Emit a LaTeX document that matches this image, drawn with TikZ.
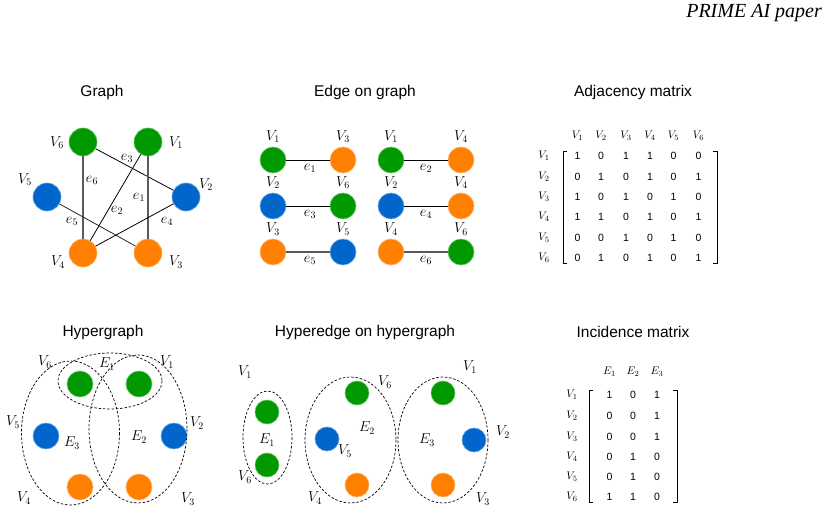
\documentclass[tikz,border=0pt]{standalone}
\usepackage[no-math]{fontspec}
\setmainfont{Liberation Sans}
\newfontfamily\timesf{Liberation Serif}
\definecolor{cgreen}{RGB}{0,153,0}
\definecolor{cblue}{RGB}{0,102,204}
\definecolor{corange}{RGB}{255,128,0}
\definecolor{cgray}{RGB}{90,90,90}
\tikzset{
  vtx/.style={circle, inner sep=0pt, minimum size=#1},
  gv/.style={vtx=#1, fill=cgreen, draw=cgreen!60!white, line width=0.6pt},
  bv/.style={vtx=#1, fill=cblue, draw=cblue!60!white, line width=0.6pt},
  ov/.style={vtx=#1, fill=corange, draw=corange!60!white, line width=0.6pt},
  ttl/.style={font=\fontsize{15.5}{17}\selectfont, inner sep=0pt},
  lab/.style={font=\fontsize{14.5}{15}\selectfont, inner sep=0pt},
  mlab/.style={font=\fontsize{11}{12}\selectfont, inner sep=0pt},
  ent/.style={font=\fontsize{10.5}{11}\selectfont, inner sep=0pt},
  edg/.style={draw=black, line width=0.8pt},
  gedg/.style={draw=cgray, line width=1.4pt},
  hedge/.style={draw=black, line width=0.7pt, dash pattern=on 2.5pt off 1.8pt},
  brk/.style={draw=black, line width=0.8pt},
}
\begin{document}
\begin{tikzpicture}[x=1pt,y=-1pt]
\useasboundingbox (0,0) rectangle (827,513);

% header
\node[anchor=east, inner sep=0pt, font=\timesf\itshape\fontsize{20}{22}\selectfont] (hdr) at (822,13) {PRIME AI paper};

% ---------------- Graph ----------------
\node[ttl] (t1) at (102,92) {Graph};
\node[gv=28] (g6) at (83,142) {};
\node[gv=28] (g1) at (148,142) {};
\node[bv=28] (g5) at (47,197) {};
\node[bv=28] (g2) at (186,197) {};
\node[ov=28] (g4) at (83,253) {};
\node[ov=28] (g3) at (148,253) {};
\draw[edg] (g6) -- (g2);
\draw[gedg] (g6) -- (g4);
\draw[edg] (g1) -- (g4);
\draw[gedg] (g1) -- (g3);
\draw[edg, draw=black!85] (g5) -- (g3);
\draw[edg] (g2) -- (g4);
\node[lab] (lg6) at (57,143) {$V_6$};
\node[lab] (lg1) at (176,143) {$V_1$};
\node[lab] (lg5) at (25,180) {$V_5$};
\node[lab] (lg2) at (206,185) {$V_2$};
\node[lab] (lg4) at (58,262) {$V_4$};
\node[lab] (lg3) at (176,262) {$V_3$};
\node[lab] (le3) at (127,158) {$e_3$};
\node[lab] (le6) at (92,180) {$e_6$};
\node[lab] (le1) at (139,197) {$e_1$};
\node[lab] (le2) at (117,210) {$e_2$};
\node[lab] (le5) at (72,221) {$e_5$};
\node[lab] (le4) at (167,221) {$e_4$};

% ---------------- Edge on graph ----------------
\node[ttl] (t2) at (365,92) {Edge on graph};
\node[gv=26] (a1) at (273,160) {};
\node[ov=26] (a3) at (343,160) {};
\node[gv=26] (b1) at (391,160) {};
\node[ov=26] (b4) at (461,160) {};
\node[bv=26] (c2) at (273,206) {};
\node[gv=26] (c6) at (343,206) {};
\node[bv=26] (d2) at (391,206) {};
\node[ov=26] (d4) at (461,206) {};
\node[ov=26] (e3) at (273,252) {};
\node[bv=26] (e5) at (343,252) {};
\node[ov=26] (f4) at (391,252) {};
\node[gv=26] (f6) at (461,252) {};
\draw[edg] (a1) -- (a3);
\draw[edg] (b1) -- (b4);
\draw[edg] (c2) -- (c6);
\draw[edg] (d2) -- (d4);
\draw[gedg, line width=1.1pt] (e3) -- (e5);
\draw[gedg, line width=1.1pt] (f4) -- (f6);
\node[lab] (la1) at (273,137) {$V_1$};
\node[lab] (la3) at (343,137) {$V_3$};
\node[lab] (lb1) at (391,137) {$V_1$};
\node[lab] (lb4) at (461,137) {$V_4$};
\node[lab] (lc2) at (273,183) {$V_2$};
\node[lab] (lc6) at (343,183) {$V_6$};
\node[lab] (ld2) at (391,183) {$V_2$};
\node[lab] (ld4) at (461,183) {$V_4$};
\node[lab] (le3b) at (273,229) {$V_3$};
\node[lab] (le5b) at (343,229) {$V_5$};
\node[lab] (lf4) at (391,229) {$V_4$};
\node[lab] (lf6) at (461,229) {$V_6$};
\node[lab] (ee1) at (310,168) {$e_1$};
\node[lab] (ee2) at (426,168) {$e_2$};
\node[lab] (ee3) at (310,214) {$e_3$};
\node[lab] (ee4) at (426,214) {$e_4$};
\node[lab] (ee5) at (310,260) {$e_5$};
\node[lab] (ee6) at (426,260) {$e_6$};

% ---------------- Adjacency matrix ----------------
\node[ttl] (t3) at (633,92) {Adjacency matrix};
\foreach \c/\x in {1/577.5,2/601,3/626,4/650,5/673.5,6/698.5}{
  \node[mlab] (ah\c) at (\x,136) {$V_{\c}$};
}
\foreach \r/\y in {1/156,2/177,3/197,4/217,5/238,6/258}{
  \node[mlab] (ar\r) at (544,\y) {$V_{\r}$};
}
\foreach \r/\y/\row in {1/156/{1,0,1,1,0,0},2/177/{0,1,0,1,0,1},3/197/{1,0,1,0,1,0},4/217/{1,1,0,1,0,1},5/238/{0,0,1,0,1,0},6/258/{0,1,0,1,0,1}}{
  \foreach \v [count=\c] in \row {
    \pgfmathsetmacro{\xx}{{577.5,601,626,650,673.5,698.5}[\c-1]}
    \node[ent] (a\r\c) at (\xx,\y) {\v};
  }
}
\draw[brk] (567,151) -- (563,151) -- (563,263) -- (567,263);
\draw[brk] (713,151) -- (717,151) -- (717,263) -- (713,263);

% ---------------- Hypergraph ----------------
\node[ttl] (t4) at (103,332) {Hypergraph};
\node[gv=26] (h6) at (80,384) {};
\node[gv=26] (h1) at (139,384) {};
\node[bv=26] (h5) at (46,436) {};
\node[bv=26] (h2) at (174,436) {};
\node[ov=26] (h4) at (80,487) {};
\node[ov=26] (h3) at (139,487) {};
\draw[hedge] (110,381) ellipse [x radius=52, y radius=28];
\draw[hedge] (70.5,433) ellipse [x radius=49, y radius=72];
\draw[hedge] (138,429) ellipse [x radius=49, y radius=74];
\node[lab] (lh6) at (45,362) {$V_6$};
\node[lab] (lhE1) at (107,364) {$E_1$};
\node[lab] (lh1) at (167,362) {$V_1$};
\node[lab] (lh5) at (13,422) {$V_5$};
\node[lab] (lh2) at (197,423) {$V_2$};
\node[lab] (lhE3) at (72,443) {$E_3$};
\node[lab] (lhE2) at (139,437) {$E_2$};
\node[lab] (lh4) at (24,498) {$V_4$};
\node[lab] (lh3) at (188,499) {$V_3$};

% ---------------- Hyperedge on hypergraph ----------------
\node[ttl] (t5) at (365,332) {Hyperedge on hypergraph};
\node[gv=24] (k1) at (267,412) {};
\node[gv=24] (k6) at (267,465) {};
\draw[hedge] (267.5,437.5) ellipse [x radius=24.5, y radius=46.5];
\node[lab] (lk1) at (245,372) {$V_1$};
\node[lab] (lkE1) at (267,440) {$E_1$};
\node[lab] (lk6) at (245,477) {$V_6$};
\node[gv=24] (m6) at (357,393) {};
\node[bv=24] (m5) at (327,439) {};
\node[ov=24] (m4) at (357,485) {};
\draw[hedge] (350.5,440) ellipse [x radius=45.5, y radius=63];
\node[lab] (lm6) at (385,382) {$V_6$};
\node[lab] (lmE2) at (367,428) {$E_2$};
\node[lab] (lm5) at (345,451) {$V_5$};
\node[lab] (lm4) at (315,498) {$V_4$};
\node[gv=24] (n1) at (443,393) {};
\node[bv=24] (n2) at (474,440) {};
\node[ov=24] (n3) at (443,485) {};
\draw[hedge] (443,440) ellipse [x radius=45, y radius=63];
\node[lab] (ln1) at (470,367) {$V_1$};
\node[lab] (lnE3) at (427,440) {$E_3$};
\node[lab] (ln2) at (503,432) {$V_2$};
\node[lab] (ln3) at (483,499) {$V_3$};

% ---------------- Incidence matrix ----------------
\node[ttl] (t6) at (633,332) {Incidence matrix};
\foreach \c/\x in {1/609.5,2/633,3/657}{
  \node[mlab] (ih\c) at (\x,372) {$E_{\c}$};
}
\foreach \r/\y in {1/395,2/416,3/437,4/457,5/477,6/497}{
  \node[mlab] (ir\r) at (572,\y) {$V_{\r}$};
}
\foreach \r/\y/\row in {1/395/{1,0,1},2/416/{0,0,1},3/437/{0,0,1},4/457/{0,1,0},5/477/{0,1,0},6/497/{1,1,0}}{
  \foreach \v [count=\c] in \row {
    \pgfmathsetmacro{\xx}{{609.5,633,657}[\c-1]}
    \node[ent] (i\r\c) at (\xx,\y) {\v};
  }
}
\draw[brk] (593,390) -- (589,390) -- (589,502) -- (593,502);
\draw[brk] (673,390) -- (677,390) -- (677,502) -- (673,502);
\end{tikzpicture}
\end{document}
